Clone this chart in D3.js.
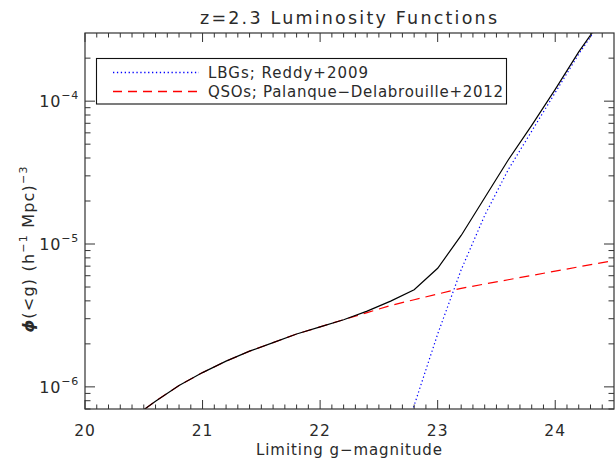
<!DOCTYPE html>
<html>
<head>
<meta charset="utf-8">
<script src="https://cdn.jsdelivr.net/npm/d3@7"></script>
<style>
  html, body { margin: 0; padding: 0; background: #fff; }
  svg { display: block; }
  text { font-family: "DejaVu Sans", "Liberation Sans", sans-serif; fill: #2a2a2a; }
</style>
</head>
<body>
<svg id="chart" width="616" height="459"></svg>
<script>
// Limiting g magnitude grid (0.2 mag steps)
const mags = [20.4, 20.6, 20.8, 21.0, 21.2, 21.4, 21.6, 21.8, 22.0, 22.2, 22.4,
              22.6, 22.8, 23.0, 23.2, 23.4, 23.6, 23.8, 24.0, 24.2, 24.4, 24.6];

// log10 cumulative number density, QSOs (Palanque-Delabrouille+2012)
const logQSO = [-6.22, -6.10, -5.99, -5.90, -5.82, -5.75, -5.69, -5.63, -5.58, -5.53, -5.48,
                -5.43, -5.39, -5.35, -5.31, -5.28, -5.25, -5.22, -5.19, -5.16, -5.13, -5.10];

// log10 cumulative number density, LBGs (Reddy+2009); null where off the plot
const logLBG = [null, null, null, null, null, null, null, null, null, null, -7.10,
                -6.60, -6.13, -5.63, -5.18, -4.80, -4.48, -4.21, -3.94, -3.67, -3.43, -3.20];

// log10 combined density, LBGs + QSOs
const logTotal = [-6.22, -6.10, -5.99, -5.90, -5.82, -5.75, -5.69, -5.63, -5.58, -5.53, -5.47,
                  -5.40, -5.32, -5.17, -4.94, -4.676, -4.412, -4.169, -3.917, -3.655, -3.421, -3.19];

const xTicks = [20, 21, 22, 23, 24];
const yTicks = [1e-6, 1e-5, 1e-4];
const yTickExp = ["\u22126", "\u22125", "\u22124"];

const legendLabels = ["LBGs; Reddy+2009", "QSOs; Palanque\u2212Delabrouille+2012"];
const legendWidths = [160, 295];

const svg = d3.select("#chart");
const m = { left: 85, right: 614, top: 33, bottom: 409 };

const x = d3.scaleLinear().domain([20, 24.5]).range([m.left, m.right]);
const y = d3.scaleLog().domain([7e-7, 3e-4]).range([m.bottom, m.top]);

const axisColor = "#333";

// clip region for the curves
svg.append("defs").append("clipPath").attr("id", "plotclip")
  .append("rect")
  .attr("x", m.left).attr("y", m.top)
  .attr("width", m.right - m.left).attr("height", m.bottom - m.top);

// curves
const toPoints = arr => mags.map((g, i) => [g, arr[i]]).filter(d => d[1] !== null);
const line = d3.line().x(d => x(d[0])).y(d => y(Math.pow(10, d[1])));

const curves = svg.append("g").attr("clip-path", "url(#plotclip)");
curves.append("path").datum(toPoints(logQSO))
  .attr("d", line).attr("fill", "none")
  .attr("stroke", "#ff0000").attr("stroke-width", 1.2)
  .attr("stroke-dasharray", "10,6");
curves.append("path").datum(toPoints(logLBG))
  .attr("d", line).attr("fill", "none")
  .attr("stroke", "#0000ff").attr("stroke-width", 1.2)
  .attr("stroke-dasharray", "1.3,2.6");
curves.append("path").datum(toPoints(logTotal))
  .attr("d", line).attr("fill", "none")
  .attr("stroke", "#000").attr("stroke-width", 1.2);

// frame
svg.append("rect")
  .attr("x", m.left).attr("y", m.top)
  .attr("width", m.right - m.left).attr("height", m.bottom - m.top)
  .attr("fill", "none").attr("stroke", axisColor).attr("stroke-width", 1.2);

// x ticks (major every 1, minor every 0.1), mirrored on top
const xMinor = d3.range(201, 245).map(v => v / 10).filter(v => Math.abs(v - Math.round(v)) > 1e-6);
const tickG = svg.append("g").attr("stroke", axisColor).attr("stroke-width", 1);
xTicks.forEach(v => {
  tickG.append("line").attr("x1", x(v)).attr("x2", x(v)).attr("y1", m.bottom).attr("y2", m.bottom - 9);
  tickG.append("line").attr("x1", x(v)).attr("x2", x(v)).attr("y1", m.top).attr("y2", m.top + 9);
});
xMinor.forEach(v => {
  tickG.append("line").attr("x1", x(v)).attr("x2", x(v)).attr("y1", m.bottom).attr("y2", m.bottom - 4.5);
  tickG.append("line").attr("x1", x(v)).attr("x2", x(v)).attr("y1", m.top).attr("y2", m.top + 4.5);
});

// y ticks (log: majors at decades, minors at 2..9), mirrored on right
const yMinor = [];
[-7, -6, -5, -4].forEach(e => d3.range(2, 10).forEach(k => {
  const v = k * Math.pow(10, e);
  if (v >= 7e-7 && v <= 3e-4) yMinor.push(v);
}));
yTicks.forEach(v => {
  tickG.append("line").attr("x1", m.left).attr("x2", m.left + 10).attr("y1", y(v)).attr("y2", y(v));
  tickG.append("line").attr("x1", m.right).attr("x2", m.right - 10).attr("y1", y(v)).attr("y2", y(v));
});
yMinor.forEach(v => {
  tickG.append("line").attr("x1", m.left).attr("x2", m.left + 5.5).attr("y1", y(v)).attr("y2", y(v));
  tickG.append("line").attr("x1", m.right).attr("x2", m.right - 5.5).attr("y1", y(v)).attr("y2", y(v));
});

// x tick labels
svg.append("g").selectAll("text").data(xTicks).join("text")
  .attr("x", d => x(d)).attr("y", 436)
  .attr("text-anchor", "middle").attr("font-size", 15.5).attr("letter-spacing", 1)
  .text(d => d);

// y tick labels 10^n
yTicks.forEach((v, i) => {
  const t = svg.append("text")
    .attr("x", 79).attr("y", y(v) + 6)
    .attr("text-anchor", "end").attr("font-size", 16).attr("letter-spacing", 0.8);
  t.append("tspan").text("10");
  t.append("tspan").attr("dy", -8).attr("font-size", 11).text(yTickExp[i]);
});

// title
svg.append("text").attr("x", 200).attr("y", 24)
  .attr("font-size", 17.5)
  .attr("textLength", 297).attr("lengthAdjust", "spacing")
  .text("z=2.3 Luminosity Functions");

// x axis title
svg.append("text").attr("x", 256).attr("y", 455)
  .attr("font-size", 15)
  .attr("textLength", 186).attr("lengthAdjust", "spacing")
  .text("Limiting g\u2212magnitude");

// y axis title
const yt = svg.append("text")
  .attr("transform", `translate(34, 249) rotate(-90)`)
  .attr("text-anchor", "middle").attr("font-size", 16).attr("letter-spacing", 1.2);
yt.append("tspan").attr("font-style", "italic").attr("font-weight", "bold").text("\u03d5");
yt.append("tspan").text("(<g)  (h");
yt.append("tspan").attr("dy", -7).attr("font-size", 11).text("\u22121");
yt.append("tspan").attr("dy", 7).text("  Mpc)");
yt.append("tspan").attr("dy", -7).attr("font-size", 11).text("\u22123");

// legend
const lg = svg.append("g");
lg.append("rect").attr("x", 96.5).attr("y", 58.5).attr("width", 410).attr("height", 45.5)
  .attr("fill", "#fff").attr("stroke", "#111").attr("stroke-width", 1.1);
const legendStyles = [
  { color: "#0000ff", dash: "1.3,2.6" },
  { color: "#ff0000", dash: "9,6" }
];
legendLabels.forEach((lab, i) => {
  const yy = 72.5 + i * 19;
  lg.append("line").attr("x1", 113).attr("x2", 199).attr("y1", yy).attr("y2", yy)
    .attr("stroke", legendStyles[i].color).attr("stroke-width", 1.3)
    .attr("stroke-dasharray", legendStyles[i].dash);
  lg.append("text").attr("x", 208).attr("y", yy + 5.5).attr("font-size", 15)
    .attr("textLength", legendWidths[i]).attr("lengthAdjust", "spacing")
    .text(lab);
});
</script>
</body>
</html>
